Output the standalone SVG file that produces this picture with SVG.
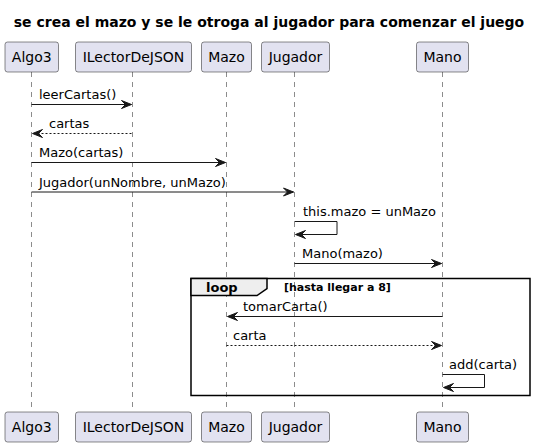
<svg xmlns="http://www.w3.org/2000/svg" width="541" height="447" viewBox="0 0 541 447">
<style>
.box{fill:#E2E2F0;stroke:#181818;stroke-width:0.5}
.pt{font-family:"DejaVu Sans",sans-serif;font-size:14px;fill:#000;text-anchor:middle}
.life{stroke:#181818;stroke-width:0.5;stroke-dasharray:5,5}
.msg{stroke:#181818;stroke-width:1;fill:none}
.ret{stroke:#181818;stroke-width:1;fill:none;stroke-dasharray:2,2}
.ah{fill:#181818;stroke:#181818;stroke-width:1}
.mt{font-family:"DejaVu Sans",sans-serif;font-size:13px;fill:#000}
</style>
<rect width="541" height="447" fill="#FFFFFF"/>
<text x="269" y="26.5" text-anchor="middle" font-family="DejaVu Sans, sans-serif" font-size="14" font-weight="bold">se crea el mazo y se le otroga al jugador para comenzar el juego</text>

<g id="lifelines">
<line class="life" x1="31.5" y1="72" x2="31.5" y2="412"/>
<line class="life" x1="132.5" y1="72" x2="132.5" y2="412"/>
<line class="life" x1="226.5" y1="72" x2="226.5" y2="412"/>
<line class="life" x1="294.5" y1="72" x2="294.5" y2="412"/>
<line class="life" x1="442.5" y1="72" x2="442.5" y2="412"/>
</g>

<g id="Algo3">
<rect class="box" x="5" y="42" width="53.5" height="30" rx="2.5"/>
<text class="pt" x="31.75" y="62">Algo3</text>
<rect class="box" x="5" y="412" width="53.5" height="30" rx="2.5"/>
<text class="pt" x="31.75" y="432">Algo3</text>
</g>
<g id="ILectorDeJSON">
<rect class="box" x="75.5" y="42" width="116" height="30" rx="2.5"/>
<text class="pt" x="133.5" y="62">ILectorDeJSON</text>
<rect class="box" x="75.5" y="412" width="116" height="30" rx="2.5"/>
<text class="pt" x="133.5" y="432">ILectorDeJSON</text>
</g>
<g id="Mazo">
<rect class="box" x="201.5" y="42" width="50" height="30" rx="2.5"/>
<text class="pt" x="226.5" y="62">Mazo</text>
<rect class="box" x="201.5" y="412" width="50" height="30" rx="2.5"/>
<text class="pt" x="226.5" y="432">Mazo</text>
</g>
<g id="Jugador">
<rect class="box" x="261.5" y="42" width="68" height="30" rx="2.5"/>
<text class="pt" x="295.5" y="62">Jugador</text>
<rect class="box" x="261.5" y="412" width="68" height="30" rx="2.5"/>
<text class="pt" x="295.5" y="432">Jugador</text>
</g>
<g id="Mano">
<rect class="box" x="416.5" y="42" width="52" height="30" rx="2.5"/>
<text class="pt" x="442.5" y="62">Mano</text>
<rect class="box" x="416.5" y="412" width="52" height="30" rx="2.5"/>
<text class="pt" x="442.5" y="432">Mano</text>
</g>

<g id="loop">
<rect x="191" y="278.5" width="339" height="117" fill="none" stroke="#000" stroke-width="1.5"/>
<polygon points="191,278.5 267,278.5 267,288.5 257,295.5 191,295.5" fill="#EEEEEE" stroke="#000" stroke-width="1.5"/>
<text x="206" y="292" font-family="DejaVu Sans, sans-serif" font-size="13" font-weight="bold">loop</text>
<text x="284" y="291" font-family="DejaVu Sans, sans-serif" font-size="11" font-weight="bold">[hasta llegar a 8]</text>
</g>

<g id="connectors">
<line class="msg" x1="31.5" y1="104.5" x2="131.5" y2="104.5"/>
<polygon class="ah" points="121.5,100.5 131.5,104.5 121.5,108.5 125.5,104.5"/>
<text class="mt" x="39" y="99">leerCartas()</text>

<line class="ret" x1="33.5" y1="133.5" x2="132.5" y2="133.5"/>
<polygon class="ah" points="42.5,129.5 32.5,133.5 42.5,137.5 38.5,133.5"/>
<text class="mt" x="49" y="128">cartas</text>

<line class="msg" x1="31.5" y1="162.5" x2="225.5" y2="162.5"/>
<polygon class="ah" points="215.5,158.5 225.5,162.5 215.5,166.5 219.5,162.5"/>
<text class="mt" x="39" y="157">Mazo(cartas)</text>

<line class="msg" x1="31.5" y1="192" x2="293.5" y2="192"/>
<polygon class="ah" points="283.5,188 293.5,192 283.5,196 287.5,192"/>
<text class="mt" x="39" y="186.5">Jugador(unNombre, unMazo)</text>

<polyline class="msg" points="294.5,221.5 337,221.5 337,234.5 296,234.5"/>
<polygon class="ah" points="305.5,230.5 295.5,234.5 305.5,238.5 301.5,234.5"/>
<text class="mt" x="303" y="216">this.mazo = unMazo</text>

<line class="msg" x1="294.5" y1="263.5" x2="441.5" y2="263.5"/>
<polygon class="ah" points="431.5,259.5 441.5,263.5 431.5,267.5 435.5,263.5"/>
<text class="mt" x="302" y="258">Mano(mazo)</text>

<line class="msg" x1="228" y1="316.5" x2="442.5" y2="316.5"/>
<polygon class="ah" points="237.5,312.5 227.5,316.5 237.5,320.5 233.5,316.5"/>
<text class="mt" x="243" y="311">tomarCarta()</text>

<line class="ret" x1="226.5" y1="345.5" x2="441" y2="345.5"/>
<polygon class="ah" points="431.5,341.5 441.5,345.5 431.5,349.5 435.5,345.5"/>
<text class="mt" x="233" y="340">carta</text>

<polyline class="msg" points="442.5,374.5 484.5,374.5 484.5,387.5 444,387.5"/>
<polygon class="ah" points="453.5,383.5 443.5,387.5 453.5,391.5 449.5,387.5"/>
<text class="mt" x="449" y="369">add(carta)</text>
</g>
</svg>
